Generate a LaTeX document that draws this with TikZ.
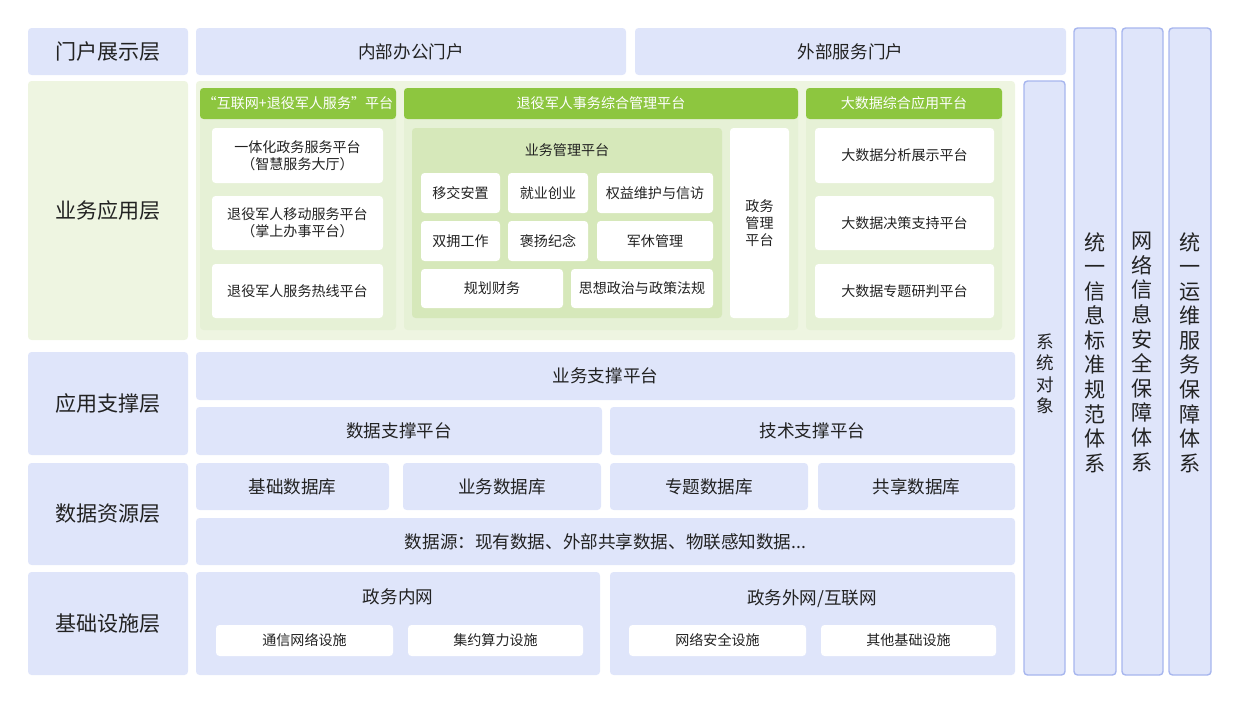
\documentclass[tikz,border=0pt]{standalone}
\usepackage{fontspec}
\setmainfont{Noto Sans CJK SC}
\usetikzlibrary{positioning,fit,calc}
\definecolor{layblue}{HTML}{DFE5FA}
\definecolor{lineblue}{HTML}{A7B6EE}
\definecolor{hdgreen}{HTML}{8DC63F}
\definecolor{bggreen}{HTML}{EEF5E1}
\definecolor{ingreen}{HTML}{D6E8BA}
\definecolor{txt}{HTML}{222222}
\tikzset{
  box/.style={draw=none, rounded corners=2pt, text=txt},
  layer/.style={box, fill=layblue},
  whitebox/.style={box, fill=white, font=\footnotesize},
  header/.style={box, fill=hdgreen, text=white, font=\footnotesize},
  column/.style={box, fill=layblue, draw=lineblue, thick},
}
% rectangle node from pixel corners: \rbox{style}{name}{x1}{y1}{x2}{y2}{text}
\newcommand{\rbox}[7]{\node[#1, minimum width=(#5-#3)*0.02cm, minimum height=(#6-#4)*0.02cm, inner sep=0pt, align=center] (#2) at ({(#3+#5)/2},{(#4+#6)/2}) {#7};}
\begin{document}
\begin{tikzpicture}[x=0.02cm, y=-0.02cm, font=\normalsize]
    \useasboundingbox (0,0) rectangle (1255,720);
    % layer labels
    \rbox{layer, font=\large}{portal}{28}{28}{188}{75}{门户展示层}
    \rbox{box, fill=bggreen, font=\large}{app}{28}{81}{188}{340}{业务应用层}
    \rbox{layer, font=\large}{support}{28}{352}{188}{455}{应用支撑层}
    \rbox{layer, font=\large}{data}{28}{463}{188}{565}{数据资源层}
    \rbox{layer, font=\large}{infra}{28}{572}{188}{675}{基础设施层}
    % portal
    \rbox{layer}{inner}{196}{28}{626}{75}{内部办公门户}
    \rbox{layer}{outer}{635}{28}{1066}{75}{外部服务门户}
    % application layer
    \rbox{box, fill=bggreen}{appbg}{196}{81}{1015}{340}{}
    \rbox{box, fill=ingreen!60}{p1}{200}{88}{396}{330}{}
    \rbox{box, fill=ingreen!60}{p2}{404}{88}{798}{330}{}
    \rbox{box, fill=ingreen!60}{p3}{806}{88}{1002}{330}{}
    \rbox{header}{h1}{200}{88}{396}{119}{“互联网+退役军人服务”平台}
    \rbox{header}{h2}{404}{88}{798}{119}{退役军人事务综合管理平台}
    \rbox{header}{h3}{806}{88}{1002}{119}{大数据综合应用平台}
    \rbox{whitebox}{a1}{212}{128}{383}{183}{一体化政务服务平台\\（智慧服务大厅）}
    \rbox{whitebox}{a2}{212}{196}{383}{250}{退役军人移动服务平台\\（掌上办事平台）}
    \rbox{whitebox}{a3}{212}{264}{383}{318}{退役军人服务热线平台}
    \rbox{box, fill=ingreen}{mgmt}{412}{128}{722}{318}{}
    \node[font=\footnotesize, text=txt] (mgmttitle) at (567,150) {业务管理平台};
    \rbox{whitebox}{b1}{421}{173}{500}{213}{移交安置}
    \rbox{whitebox}{b2}{508}{173}{588}{213}{就业创业}
    \rbox{whitebox}{b3}{597}{173}{713}{213}{权益维护与信访}
    \rbox{whitebox}{b4}{421}{221}{500}{261}{双拥工作}
    \rbox{whitebox}{b5}{508}{221}{588}{261}{褒扬纪念}
    \rbox{whitebox}{b6}{597}{221}{713}{261}{军休管理}
    \rbox{whitebox}{b7}{421}{269}{563}{308}{规划财务}
    \rbox{whitebox}{b8}{571}{269}{713}{308}{思想政治与政策法规}
    \rbox{whitebox}{gov}{730}{128}{789}{318}{政务\\管理\\平台}
    \rbox{whitebox}{c1}{815}{128}{994}{183}{大数据分析展示平台}
    \rbox{whitebox}{c2}{815}{196}{994}{250}{大数据决策支持平台}
    \rbox{whitebox}{c3}{815}{264}{994}{318}{大数据专题研判平台}
    % support layer
    \rbox{layer}{bizsup}{196}{352}{1015}{400}{业务支撑平台}
    \rbox{layer}{datasup}{196}{407}{602}{455}{数据支撑平台}
    \rbox{layer}{techsup}{610}{407}{1015}{455}{技术支撑平台}
    % data layer
    \rbox{layer}{d1}{196}{463}{389}{510}{基础数据库}
    \rbox{layer}{d2}{403}{463}{601}{510}{业务数据库}
    \rbox{layer}{d3}{610}{463}{808}{510}{专题数据库}
    \rbox{layer}{d4}{818}{463}{1015}{510}{共享数据库}
    \rbox{layer}{src}{196}{518}{1015}{565}{数据源：现有数据、外部共享数据、物联感知数据...}
    % infrastructure
    \rbox{layer}{intra}{196}{572}{600}{675}{}
    \rbox{layer}{extra}{610}{572}{1015}{675}{}
    \node[text=txt] (intratitle) at (398,597) {政务内网};
    \node[text=txt] (extratitle) at (812,599) {政务外网/互联网};
    \rbox{whitebox}{e1}{216}{625}{393}{656}{通信网络设施}
    \rbox{whitebox}{e2}{408}{625}{583}{656}{集约算力设施}
    \rbox{whitebox}{e3}{629}{625}{806}{656}{网络安全设施}
    \rbox{whitebox}{e4}{821}{625}{996}{656}{其他基础设施}
    % vertical columns
    \rbox{column}{obj}{1024}{81}{1065}{675}{}
    \node[text=txt, align=center, anchor=north] (objtext) at (1045,328) {系\\统\\对\\象};
    \rbox{column}{std}{1074}{28}{1116}{675}{}
    \node[text=txt, align=center, font=\large, anchor=north] (stdtext) at (1095,226) {统\\一\\信\\息\\标\\准\\规\\范\\体\\系};
    \rbox{column}{sec}{1122}{28}{1163}{675}{}
    \node[text=txt, align=center, font=\large, anchor=north] (sectext) at (1142,226) {网\\络\\信\\息\\安\\全\\保\\障\\体\\系};
    \rbox{column}{ops}{1169}{28}{1211}{675}{}
    \node[text=txt, align=center, font=\large, anchor=north] (opstext) at (1190,226) {统\\一\\运\\维\\服\\务\\保\\障\\体\\系};
\end{tikzpicture}
\end{document}
